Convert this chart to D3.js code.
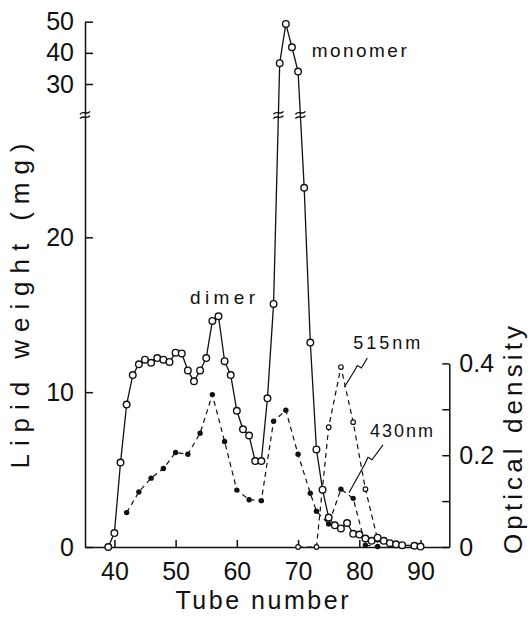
<!DOCTYPE html>
<html><head><meta charset="utf-8">
<script src="https://cdn.jsdelivr.net/npm/d3@7"></script>
<style>
html,body{margin:0;padding:0;background:#fff;}
svg{display:block;}
text{font-family:"Liberation Sans",Arial,sans-serif;fill:#111;}
</style></head><body>
<svg id="chart" width="531" height="617"></svg>
<script>
// ---------- data ----------
const lipidTubes  = [39,40,41,42,43,44,45,46,47,48,49,50,51,52,53,54,55,56,57,58,59,60,61,62,63,64,65,66,67,68,69,70,71,72,73,74,75,76,77,78,79,80,81,82,83,84,85,86,87,89,90];
const lipidWeight = [0,0.9,5.45,9.2,11.1,11.8,12.1,11.9,12.2,12.1,11.95,12.55,12.5,11.4,10.7,11.4,12.2,14.6,14.9,12.0,11.1,8.8,7.6,7.2,5.55,5.55,9.6,15.7,36.7,49.3,41.8,34.0,23.2,13.2,6.3,3.7,1.9,1.4,1.2,1.55,0.85,0.8,0.55,0.4,0.6,0.4,0.25,0.17,0.12,0.08,0.03];

const od430Tubes = [42,44,46,48,50,52,54,56,58,60,62,64,66,68,70,72,73,75,77,79,81,83];
const od430      = [0.075,0.12,0.15,0.171,0.206,0.202,0.248,0.332,0.23,0.124,0.103,0.101,0.274,0.298,0.202,0.117,0.078,0.05,0.126,0.106,0.004,0.001];

const od515Tubes = [70,73,75,77,79,81,83];
const od515      = [0,0,0.261,0.392,0.272,0.126,0.016];

const xTicks       = [40,50,60,70,80,90];
const yLowTicks    = [0,10,20];
const yHighTicks   = [30,40,50];
const yRightTicks  = [0,0.1,0.2,0.3,0.4];
const yRightLabels = ["0","","0.2","","0.4"];

const labels = [
  {text:"monomer", t:72.23, v:38.57, axis:"high", len:95, size:19},
  {text:"dimer",   t:52.35, v:15.69, axis:"low",  len:65, size:19},
  {text:"515nm",   t:79.03, v:0.4314, axis:"right", len:67, size:18},
  {text:"430nm",   t:81.75, v:0.2401, axis:"right", len:63, size:18}
];

// ---------- scales ----------
const svg = d3.select("#chart");
const INK = "#111";
const breakY = 115;
const x = d3.scaleLinear().domain([35.2, 94.7]).range([85, 449.3]);
const yLow = d3.scaleLinear().domain([0, 20]).range([547, 237.3]);
const yHigh = d3.scaleLinear().domain([30, 50]).range([84, 21.7]);
const yR = d3.scaleLinear().domain([0, 0.4]).range([547, 363.4]);
const lowMax = yLow.invert(breakY);
const yL = v => v > lowMax ? yHigh(v) : yLow(v);

// ---------- axes ----------
function styleAxis(g, size){
  g.selectAll("path.domain").attr("stroke", INK).attr("stroke-width", 1.5);
  g.selectAll(".tick line").attr("stroke", INK).attr("stroke-width", 1.5);
  g.selectAll(".tick text").attr("font-size", size).attr("fill", INK)
    .style("font-family", '"Liberation Sans",Arial,sans-serif');
}
const lowAxisScale = yLow.copy().domain([0, lowMax]).range([547, breakY]);
const highAxisScale = yHigh.copy().domain([yHigh.invert(breakY), 50]).range([breakY, yHigh(50)]);

const gL1 = svg.append("g").attr("transform","translate(85,0)")
  .call(d3.axisLeft(lowAxisScale).tickValues(yLowTicks).tickSizeInner(-8).tickSizeOuter(0).tickPadding(11));
styleAxis(gL1, 25);
const gL2 = svg.append("g").attr("transform","translate(85,0)")
  .call(d3.axisLeft(highAxisScale).tickValues(yHighTicks).tickSizeInner(-8).tickSizeOuter(0).tickPadding(11));
styleAxis(gL2, 25);

const gB = svg.append("g").attr("transform","translate(0,547)")
  .call(d3.axisBottom(x).tickValues(xTicks).tickSizeInner(-7).tickSizeOuter(0).tickPadding(15).tickFormat(d3.format("d")));
styleAxis(gB, 25);

const gR = svg.append("g").attr("transform","translate(449.3,0)")
  .call(d3.axisRight(yR).tickValues(yRightTicks).tickFormat((d,i)=>yRightLabels[i]).tickSizeInner(-7).tickSizeOuter(0).tickPadding(10));
styleAxis(gR, 25);

// break symbol "≈"
function breakMark(cx, cy){
  const g = svg.append("g").attr("transform",`translate(${cx},${cy})`);
  [-2.2, 2.2].forEach(dy=>{
    g.append("path")
      .attr("d",`M-5,${dy+1.5} C-2,${dy-3} 2,${dy+3} 5,${dy-1.5}`)
      .attr("fill","none").attr("stroke",INK).attr("stroke-width",1.4);
  });
}
breakMark(85, breakY);

// ---------- axis titles ----------
svg.append("text")
  .attr("transform","translate(28.5,306) rotate(-90)")
  .attr("text-anchor","middle").attr("font-size",26)
  .attr("textLength",325).attr("lengthAdjust","spacing")
  .text("Lipid weight (mg)");
svg.append("text")
  .attr("transform","translate(522,440) rotate(-90)")
  .attr("text-anchor","middle").attr("font-size",26)
  .attr("textLength",228).attr("lengthAdjust","spacing")
  .text("Optical density");
svg.append("text")
  .attr("x",262).attr("y",609)
  .attr("text-anchor","middle").attr("font-size",25)
  .attr("textLength",173).attr("lengthAdjust","spacing")
  .text("Tube number");

// ---------- series ----------
const lipid = lipidTubes.map((t,i)=>({t, v:lipidWeight[i]}));
const s430 = od430Tubes.map((t,i)=>({t, v:od430[i]}));
const s515 = od515Tubes.map((t,i)=>({t, v:od515[i]}));

const lineR = d3.line().x(d=>x(d.t)).y(d=>yR(d.v));
const lineL = d3.line().x(d=>x(d.t)).y(d=>yL(d.v));

svg.append("path").datum(s430).attr("d",lineR)
  .attr("fill","none").attr("stroke",INK).attr("stroke-width",1.2).attr("stroke-dasharray","5,4");
svg.append("path").datum(s515).attr("d",lineR)
  .attr("fill","none").attr("stroke",INK).attr("stroke-width",1.2).attr("stroke-dasharray","5,4");
svg.append("path").datum(lipid).attr("d",lineL)
  .attr("fill","none").attr("stroke",INK).attr("stroke-width",1.3);

// break marks where the lipid line crosses the axis break
for(let i=0;i<lipid.length-1;i++){
  const a = lipid[i], b = lipid[i+1];
  const ha = a.v > lowMax, hb = b.v > lowMax;
  if(ha !== hb){
    const x1 = x(a.t), y1 = yL(a.v), x2 = x(b.t), y2 = yL(b.v);
    const f = (breakY - y1)/(y2 - y1);
    breakMark(x1 + f*(x2-x1), breakY);
  }
}

svg.append("g").selectAll("circle").data(s430).join("circle")
  .attr("cx",d=>x(d.t)).attr("cy",d=>yR(d.v)).attr("r",2.7).attr("fill",INK);
svg.append("g").selectAll("circle").data(s515).join("circle")
  .attr("cx",d=>x(d.t)).attr("cy",d=>yR(d.v)).attr("r",2.3)
  .attr("fill","#fff").attr("stroke",INK).attr("stroke-width",1.2);
svg.append("g").selectAll("circle").data(lipid).join("circle")
  .attr("cx",d=>x(d.t)).attr("cy",d=>yL(d.v)).attr("r",3.3)
  .attr("fill","#fff").attr("stroke",INK).attr("stroke-width",1.4);

// ---------- annotations ----------
const yAxisFor = {high:yHigh, low:yLow, right:yR};
labels.forEach(l=>{
  svg.append("text").attr("x",x(l.t)).attr("y",yAxisFor[l.axis](l.v))
    .attr("font-size",l.size).attr("textLength",l.len).attr("lengthAdjust","spacing")
    .text(l.text);
});
// zig-zag leaders from the wavelength labels
const leaders = [
  {label:2, pts:[[14,9],[8,19],[4,16.5],[1,22],[-9,38]]},
  {label:3, pts:[[13,8],[2,23],[-2,20.5],[-5,27],[-21,56]]}
];
leaders.forEach(ld=>{
  const l = labels[ld.label];
  const x0 = x(l.t), y0 = yR(l.v);
  svg.append("path")
    .attr("d", d3.line()(ld.pts.map(p=>[x0+p[0], y0+p[1]])))
    .attr("fill","none").attr("stroke",INK).attr("stroke-width",1.2);
});
</script>
</body></html>
